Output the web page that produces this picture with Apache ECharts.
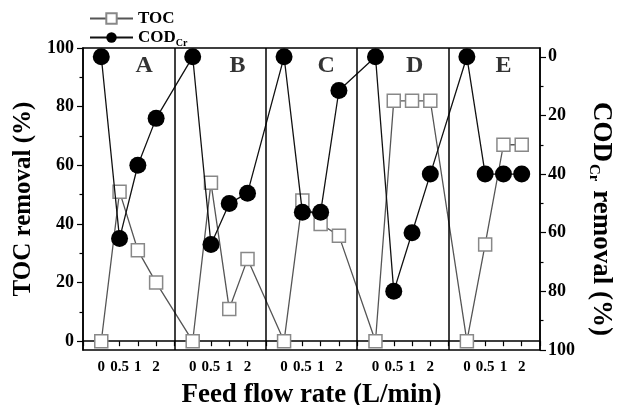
<!DOCTYPE html>
<html><head><meta charset="utf-8">
<script src="https://cdn.jsdelivr.net/npm/echarts@6/dist/echarts.min.js"></script>
<style>html,body{margin:0;padding:0;background:#fff}#c{width:622px;height:405px}</style>
</head><body><div id="c"></div>
<script>
// ---- data ----
const panels = ['A', 'B', 'C', 'D', 'E'];
const flowLabels = ['0', '0.5', '1', '2'];           // feed flow rate (L/min) within each panel
const tocA = [0, 51, 31, 20];
const tocB = [0, 54, 11, 28];
const tocC = [0, 48, 40, 36];
const tocD = [0, 82, 82, 82];
const tocE = [0, 33, 67, 67];
const codA = [0, 62, 37, 21];
const codB = [0, 64, 50, 46.5];
const codC = [0, 53, 53, 11.5];
const codD = [0, 80, 60, 40];
const codE = [0, 40, 40, 40];
const leftTicks = [0, 20, 40, 60, 80, 100];
const leftMinor = [10, 30, 50, 70, 90];
const rightTicks = [0, 20, 40, 60, 80, 100];
const rightMinor = [10, 30, 50, 70, 90];
const panelLabelX = [3.35, 8.45, 13.3, 18.15, 23.0];
const panelLabelY = 94;

// ---- build ----
const slots = flowLabels.length + 1;  // each panel spans 5 units on x
const tocAll = [tocA, tocB, tocC, tocD, tocE];
const codAll = [codA, codB, codC, codD, codE];
function toPts(groups) {
  const out = [];
  groups.forEach((g, p) => g.forEach((v, i) => out.push([p * slots + i + 1, v])));
  return out;
}
const FONT = "'Liberation Serif','Times New Roman',serif";
const chart = echarts.init(document.getElementById('c'), null, {renderer: 'canvas'});

const yBase = {
  min: -3, max: 100, splitLine: {show: false},
  axisLine: {show: true, lineStyle: {color: '#000', width: 1.5}},
};
chart.setOption({
  animation: false,
  backgroundColor: '#fff',
  grid: {left: 83, right: 82, top: 48, bottom: 55, show: true, borderColor: '#000', borderWidth: 1.5,
         containLabel: false, outerBoundsMode: 'none'},
  legend: {
    left: 84, top: 5, orient: 'vertical', itemWidth: 43, itemHeight: 13, itemGap: 2,
    data: ['TOC', 'COD_Cr'],
    formatter: n => n === 'COD_Cr' ? '{a|COD}{b|Cr}' : '{a|TOC}',
    textStyle: {
      rich: {
        a: {fontFamily: FONT, fontWeight: 'bold', fontSize: 17, color: '#000'},
        b: {fontFamily: FONT, fontWeight: 'bold', fontSize: 10, color: '#000', padding: [11, 0, 0, 0]}
      }
    }
  },
  xAxis: {
    type: 'value', min: 0, max: panels.length * slots, interval: 1,
    splitLine: {show: false},
    axisLine: {lineStyle: {color: '#000', width: 1.5}},
    axisTick: {length: 5, lineStyle: {color: '#000', width: 1.2}},
    axisLabel: {
      margin: 10, fontFamily: FONT, fontWeight: 'bold', fontSize: 15, color: '#000',
      formatter: v => { const k = Math.round(v) % slots; return k === 0 ? '' : flowLabels[k - 1]; }
    },
    name: 'Feed flow rate (L/min)', nameLocation: 'middle', nameGap: 32,
    nameTextStyle: {fontFamily: FONT, fontWeight: 'bold', fontSize: 27, color: '#000'}
  },
  yAxis: [
    Object.assign({}, yBase, {
      type: 'value', position: 'left',
      axisTick: {show: true, length: 6, customValues: leftTicks, lineStyle: {color: '#000', width: 1.2}},
      axisLabel: {customValues: leftTicks, margin: 9, fontFamily: FONT, fontWeight: 'bold', fontSize: 18, color: '#000'},
      name: 'TOC removal (%)', nameLocation: 'middle', nameGap: 45, nameRotate: 90,
      nameTextStyle: {fontFamily: FONT, fontWeight: 'bold', fontSize: 25, color: '#000'}
    }),
    Object.assign({}, yBase, {
      type: 'value', position: 'left', axisLine: {show: false},
      axisTick: {show: true, length: 3.5, customValues: leftMinor, lineStyle: {color: '#000', width: 1.2}},
      axisLabel: {show: false}
    }),
    Object.assign({}, yBase, {
      type: 'value', position: 'right', inverse: true,
      axisTick: {show: true, length: 6, customValues: rightTicks, lineStyle: {color: '#000', width: 1.2}},
      axisLabel: {customValues: rightTicks, margin: 8, fontFamily: FONT, fontWeight: 'bold', fontSize: 18, color: '#000'},
      name: '{a|COD}{b|Cr}{a| removal (%)}', nameLocation: 'middle', nameGap: 37, nameRotate: -90,
      nameTextStyle: {
        padding: [0, 0, 0, 40],
        rich: {
          a: {fontFamily: FONT, fontWeight: 'bold', fontSize: 27, color: '#000'},
          b: {fontFamily: FONT, fontWeight: 'bold', fontSize: 15, color: '#000', padding: [16, 2, 0, 2]}
        }
      }
    }),
    Object.assign({}, yBase, {
      type: 'value', position: 'right', inverse: true, axisLine: {show: false},
      axisTick: {show: true, length: 3.5, customValues: rightMinor, lineStyle: {color: '#000', width: 1.2}},
      axisLabel: {show: false}
    })
  ],
  series: [
    {
      name: 'panels', type: 'scatter', yAxisIndex: 0, silent: true,
      symbolSize: 1, itemStyle: {color: 'rgba(0,0,0,0)'},
      data: panels.map((p, i) => [panelLabelX[i], panelLabelY, p]),
      label: {show: true, position: 'inside', formatter: q => q.data[2],
        fontFamily: FONT, fontWeight: 'bold', fontSize: 24, color: '#000'},
      markLine: {
        silent: true, symbol: ['none', 'none'], label: {show: false},
        lineStyle: {color: '#000', width: 1.5, type: 'solid'},
        data: panels.slice(1).map((p, i) => ({xAxis: (i + 1) * slots}))
      }
    },
    {
      name: 'TOC', type: 'line', yAxisIndex: 0, data: toPts(tocAll),
      symbol: 'rect', symbolSize: 13,
      lineStyle: {color: '#555', width: 1.3},
      itemStyle: {color: '#fff', borderColor: '#888', borderWidth: 1.5},
      z: 3
    },
    {
      name: 'COD_Cr', type: 'line', yAxisIndex: 2, data: toPts(codAll),
      symbol: 'circle', symbolSize: 17,
      lineStyle: {color: '#111', width: 1.3},
      itemStyle: {color: '#000', borderColor: '#000', borderWidth: 0},
      z: 4
    }
  ]
});
</script>
</body></html>
